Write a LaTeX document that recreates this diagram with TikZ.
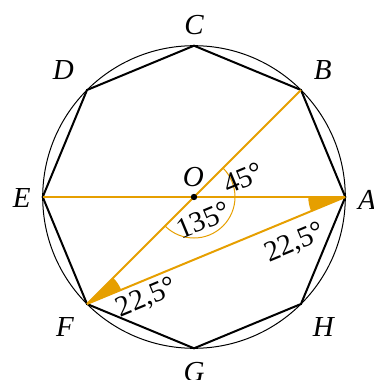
\documentclass[tikz,border=0pt]{standalone}
\usepackage{fontspec}
\setmainfont{Liberation Serif}
\usepackage{tikz}
\definecolor{ang}{RGB}{230,159,0}
\begin{document}
\begin{tikzpicture}[x=0.5pt,y=0.5pt,
  lbl/.style={inner sep=0pt,font=\fontsize{14.5}{16}\selectfont\itshape},
  num/.style={inner sep=0pt,font=\fontsize{14.5}{16}\selectfont,rotate=22.5},
  poly/.style={line width=1pt,line join=miter},
  oline/.style={ang,line width=1pt},
  oarc/.style={ang,line width=0.5pt}]
\useasboundingbox (-194,-183) rectangle (180,197);
\coordinate (O) at (0,0);
\coordinate (A) at (0:151.3);
\coordinate (B) at (45:151.3);
\coordinate (C) at (90:151.3);
\coordinate (D) at (135:151.3);
\coordinate (E) at (180:151.3);
\coordinate (F) at (225:151.3);
\coordinate (G) at (270:151.3);
\coordinate (H) at (315:151.3);
\draw[line width=0.5pt] (O) circle[radius=75.65pt];
\draw[poly] (A) -- (B) -- (C) -- (D) -- (E) -- (F) -- (G) -- (H) -- cycle;
% angle fills
\fill[ang] (A) -- ++(180:37) arc[start angle=180,end angle=202.5,radius=18.5pt] -- cycle;
\fill[ang] (F) -- ++(22.5:37) arc[start angle=22.5,end angle=45,radius=18.5pt] -- cycle;
% arcs at O
\draw[oarc] (0:41) arc[start angle=0,end angle=45,radius=20.5pt];
\draw[oarc] (225:41) arc[start angle=225,end angle=360,radius=20.5pt];
% orange lines
\draw[oline] (E) -- (A);
\draw[oline] (B) -- (F);
\draw[oline] (F) -- (A);
\fill (O) circle[radius=1.6pt];
% vertex labels
\node[lbl] (lA) at (173,-3) {A};
\node[lbl] (lB) at (128.7,127) {B};
\node[lbl] (lC) at (0,172) {C};
\node[lbl] (lD) at (-130.7,127) {D};
\node[lbl] (lE) at (-172.3,-1.3) {E};
\node[lbl] (lF) at (-129,-129.7) {F};
\node[lbl] (lG) at (0,-175) {G};
\node[lbl] (lH) at (129.3,-129.7) {H};
\node[lbl] (lO) at (-0.7,19.7) {O};
% angle labels
\node[num] (a45) at (49.3,18.7) {45°};
\node[num] (a135) at (9.3,-23) {135°};
\node[num] (aA) at (101,-46.3) {22,5°};
\node[num] (aF) at (-47.3,-101.3) {22,5°};
\end{tikzpicture}
\end{document}
